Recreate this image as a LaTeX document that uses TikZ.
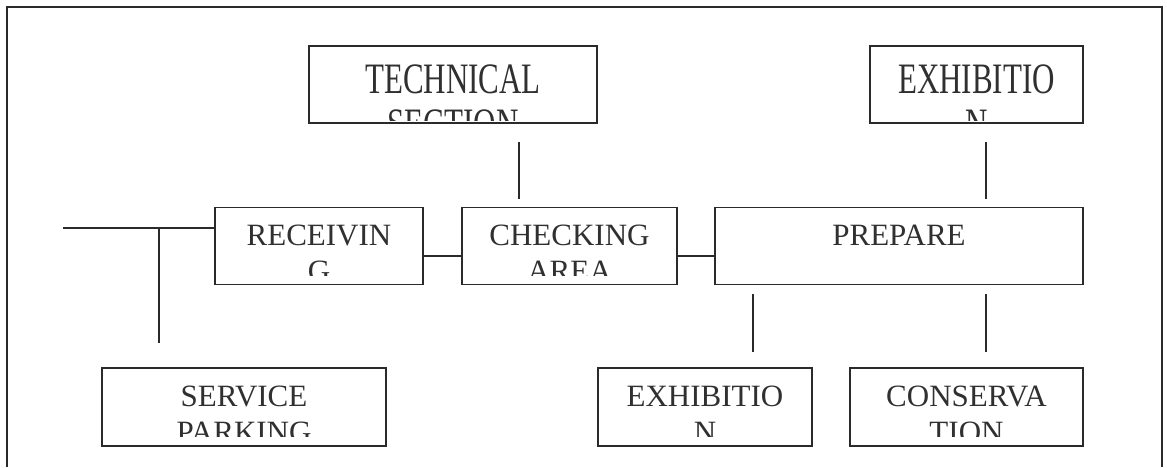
\documentclass[tikz,border=0pt]{standalone}
\usepackage{fontspec}
\usepackage{graphicx}
\setmainfont{Liberation Serif}
\definecolor{ink}{HTML}{2A2A2A}
\definecolor{txt}{HTML}{303030}
\newcommand{\twoline}[3][36pt]{\vtop{\baselineskip=#1\halign{\hfil##\hfil\cr #2\cr #3\cr}}}
\newcommand{\tallline}[2]{\scalebox{1}[1.4]{\twoline[32.5pt]{#1}{#2}}}
\tikzset{
  box/.style={draw=ink, line width=1.6pt, rectangle, inner sep=0pt},
  label/.style={inner sep=0pt, anchor=base, text=txt, font=\fontsize{31}{36}\selectfont},
  link/.style={draw=ink, line width=1.3pt},
  frame/.style={draw=ink, line width=1.3pt}
}
\begin{document}
\begin{tikzpicture}[x=1pt,y=-1pt]
\useasboundingbox (0,0) rectangle (1167,467);
\fill[white] (0,0) rectangle (1167,467);
\draw[frame] (7,467) -- (7,7) -- (1162,7) -- (1162,467);
% boxes
\node[box, minimum width=288, minimum height=77] (tech) at (453,84.5) {};
\node[box, minimum width=213, minimum height=77] (exht) at (976.5,84.5) {};
\node[box, minimum width=208, minimum height=77] (recv) at (319,246) {};
\node[box, minimum width=215, minimum height=77] (chk) at (569.5,246) {};
\node[box, minimum width=368, minimum height=77] (prep) at (899,246) {};
\node[box, minimum width=284, minimum height=78] (serv) at (244,407) {};
\node[box, minimum width=214, minimum height=78] (exhb) at (705,407) {};
\node[box, minimum width=233, minimum height=78] (cons) at (966.5,407) {};
% top row texts (taller lettering), clipped inside boxes
\foreach \b/\t in {tech/{\tallline{TECHNICAL}{SECTION}},
                   exht/{\tallline{EXHIBITIO}{N}}}{
  \begin{scope}
    \clip (\b.north west) rectangle ([yshift=3pt]\b.south east);
    \node[label] (\b-text) at ([yshift=-48pt]\b.north) {\t};
  \end{scope}
}
% other texts, clipped inside boxes
\foreach \b/\t in {recv/{\twoline{RECEIVIN}{G}},
                   chk/{\twoline{CHECKING}{AREA}},
                   serv/{\twoline{SERVICE}{PARKING}},
                   exhb/{\twoline{EXHIBITIO}{N}},
                   cons/{\twoline{CONSERVA}{TION}}}{
  \begin{scope}
    \clip (\b.north west) rectangle ([yshift=10pt]\b.south east);
    \node[label] (\b-text) at ([yshift=-39pt]\b.north) {\t};
  \end{scope}
}
\node[label] (prep-text) at ([yshift=-39pt]prep.north) {PREPARE};
% connectors
\coordinate (a1) at (519,142); \coordinate (a2) at (519,199);
\coordinate (b1) at (986,142); \coordinate (b2) at (986,199);
\coordinate (c1) at (753,294); \coordinate (c2) at (753,352);
\coordinate (d1) at (986,294); \coordinate (d2) at (986,352);
\coordinate (e0) at (63,228);
\coordinate (f1) at (159,228); \coordinate (f2) at (159,343);
\draw[link] (a1) -- (a2);
\draw[link] (b1) -- (b2);
\draw[link] (c1) -- (c2);
\draw[link] (d1) -- (d2);
\draw[link] ([yshift=-10pt]recv.east) -- ([yshift=-10pt]chk.west);
\draw[link] ([yshift=-10pt]chk.east) -- ([yshift=-10pt]prep.west);
\draw[link] (e0) -- ([yshift=18pt]recv.west);
\draw[link] (f1) -- (f2);
\end{tikzpicture}
\end{document}
